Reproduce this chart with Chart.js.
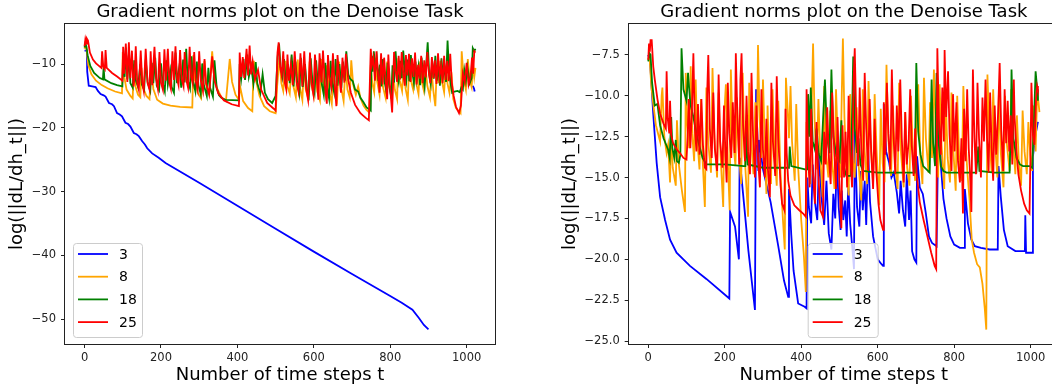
<!DOCTYPE html>
<html><head><meta charset="utf-8">
<script src="https://cdn.jsdelivr.net/npm/chart.js@4.4.1/dist/chart.umd.min.js"></script>
<style>
html,body{margin:0;padding:0;background:#fff;overflow:hidden;width:1052px;height:391px;}
#wrap{position:relative;width:1052px;height:391px;overflow:hidden;}
canvas{position:absolute;top:0;}
#left{left:0;}
#right{left:526px;}
</style></head><body>
<div id="wrap"><canvas id="left" width="526" height="391"></canvas><canvas id="right" width="560" height="391"></canvas></div>
<script>
// Series names and axis ticks
const seriesNames = ['3', '8', '18', '25'];
const xTicks = [0, 200, 400, 600, 800, 1000];
const leftYTicks = [-50, -40, -30, -20, -10];
const rightYTicks = [-25, -22.5, -20, -17.5, -15, -12.5, -10, -7.5];
const chartTitle = 'Gradient norms plot on the Denoise Task';
const xTitle = 'Number of time steps t';
const yTitle = 'log(||dL/dh_t||)';

// Left panel: [time step, log gradient norm]
const left3 = [[0,-7.9],[6,-7.9],[7,-11.2],[11,-13.4],[20,-13.5],[29,-13.6],[35,-14.2],[42,-14.7],[50,-14.9],[55,-15.1],[64,-16.1],[72,-16.3],[77,-16.6],[85,-17.7],[92,-17.9],[98,-18.2],[107,-19.2],[114,-19.4],[120,-19.8],[129,-20.8],[136,-21.0],[142,-21.3],[151,-22.1],[158,-22.6],[164,-23.2],[177,-24.0],[194,-24.7],[212,-25.5],[300,-28.6],[400,-32.2],[500,-35.8],[600,-39.4],[700,-42.9],[801,-46.4],[830,-47.4],[858,-48.5],[875,-49.8],[888,-50.9],[900,-51.6],[901,null],[1016,-13.4],[1019,-13.8],[1021,-14.3]];
const left8 = [[0,-7.6],[3,-7.0],[6,-8.0],[10,-10.2],[18,-11.6],[30,-12.6],[45,-13.3],[60,-13.8],[80,-14.3],[98,-14.6],[100,-8.1],[104,-12.0],[110,-14.0],[120,-15.0],[126,-15.4],[129,-10.0],[133,-13.5],[140,-14.8],[146,-15.2],[149,-10.6],[154,-13.8],[162,-15.0],[170,-15.5],[174,-9.8],[180,-13.9],[190,-15.6],[205,-16.2],[225,-16.5],[250,-16.7],[282,-16.8],[285,-8.6],[289,-12.5],[296,-14.5],[305,-15.4],[314,-9.5],[318,-13.2],[326,-14.6],[334,-8.0],[338,-11.3],[346,-13.7],[358,-15.2],[370,-15.8],[380,-9.2],[386,-12.8],[395,-14.8],[404,-15.6],[407,-13.5],[415,-15.8],[428,-16.9],[439,-17.4],[443,-9.5],[448,-12.4],[458,-15.0],[470,-16.6],[485,-17.4],[500,-17.7],[504,-13.5],[510,-9.0],[515,-13.0],[520,-14.2],[526,-9.5],[531,-13.5],[537,-14.6],[542,-10.0],[547,-13.6],[553,-15.2],[558,-9.3],[563,-13.5],[570,-15.6],[574,-10.4],[579,-14.0],[585,-15.3],[589,-9.6],[594,-13.4],[600,-15.0],[604,-10.6],[609,-14.3],[616,-15.7],[620,-9.2],[625,-13.4],[631,-15.0],[634,-10.2],[640,-14.2],[647,-16.2],[651,-10.8],[656,-14.0],[661,-15.5],[666,-9.6],[671,-13.5],[678,-15.8],[683,-10.4],[688,-14.0],[694,-15.2],[698,-9.4],[703,-13.2],[710,-14.8],[716,-13.5],[722,-15.3],[730,-16.5],[738,-17.2],[745,-17.6],[749,-10.2],[753,-13.0],[758,-14.4],[762,-9.0],[766,-12.8],[772,-14.8],[776,-10.0],[781,-13.6],[788,-15.3],[792,-9.6],[797,-13.4],[803,-15.1],[807,-10.6],[812,-14.0],[818,-15.5],[821,-9.1],[825,-12.6],[831,-14.2],[835,-10.4],[840,-13.8],[846,-15.6],[850,-9.4],[855,-12.8],[860,-14.0],[864,-10.8],[869,-13.3],[874,-14.7],[878,-9.6],[883,-12.9],[888,-14.2],[892,-10.3],[897,-13.4],[904,-15.2],[908,-10.9],[913,-14.3],[918,-16.6],[922,-10.2],[926,-13.0],[931,-9.5],[936,-12.9],[941,-14.4],[945,-10.6],[950,-13.1],[955,-14.5],[960,-11.3],[965,-15.5],[972,-16.9],[984,-17.7],[987,-8.0],[992,-12.2],[998,-14.0],[1003,-9.2],[1008,-12.5],[1013,-13.6],[1017,-10.0],[1020,-12.0],[1023,-10.6]];
const left18 = [[0,-7.4],[2,-6.8],[5,-7.3],[8,-8.6],[15,-10.3],[25,-11.4],[40,-12.2],[48,-12.4],[50,-10.5],[52,-12.4],[70,-13.0],[85,-13.3],[99,-13.5],[101,-9.0],[105,-12.0],[108,-7.4],[112,-12.4],[116,-8.6],[120,-13.0],[126,-13.7],[130,-9.4],[134,-12.5],[140,-13.6],[146,-10.0],[150,-13.2],[156,-14.0],[160,-9.3],[165,-12.8],[172,-14.2],[176,-9.8],[180,-13.0],[185,-9.0],[189,-13.4],[195,-14.1],[200,-9.9],[204,-12.9],[210,-14.3],[214,-9.4],[218,-13.2],[224,-11.0],[228,-13.6],[234,-14.5],[238,-8.2],[242,-13.0],[248,-10.4],[253,-13.7],[258,-9.3],[262,-12.9],[266,-7.6],[270,-12.5],[276,-13.8],[280,-8.8],[284,-12.7],[290,-14.3],[294,-9.6],[298,-13.3],[304,-14.7],[308,-9.9],[312,-13.2],[320,-15.0],[324,-10.6],[328,-13.6],[336,-15.1],[340,-9.4],[346,-13.8],[352,-14.9],[358,-15.3],[369,-15.6],[404,-15.7],[406,-10.0],[410,-12.3],[416,-9.2],[420,-12.5],[426,-8.5],[430,-12.0],[436,-10.3],[442,-13.1],[448,-9.7],[452,-13.0],[460,-14.6],[466,-11.6],[472,-14.5],[480,-15.5],[491,-16.1],[500,-15.0],[505,-9.0],[509,-6.8],[513,-10.4],[518,-12.0],[522,-9.2],[527,-13.3],[532,-10.0],[537,-13.0],[542,-8.5],[547,-13.5],[552,-9.6],[557,-13.2],[562,-14.7],[566,-9.0],[571,-13.6],[577,-10.0],[582,-14.0],[587,-15.0],[592,-9.1],[597,-13.3],[602,-14.5],[606,-9.4],[611,-13.6],[616,-9.1],[621,-13.2],[626,-14.8],[630,-9.8],[635,-13.7],[640,-15.4],[644,-9.5],[648,-12.9],[653,-14.4],[657,-9.2],[662,-13.4],[667,-10.0],[672,-13.8],[676,-9.6],[681,-12.6],[685,-8.0],[690,-11.6],[695,-12.3],[702,-12.7],[708,-14.0],[716,-14.3],[722,-15.3],[730,-16.0],[738,-16.8],[745,-17.1],[749,-17.3],[751,-8.7],[754,-11.2],[757,-8.0],[761,-10.9],[765,-9.2],[769,-12.7],[773,-10.1],[777,-13.5],[781,-9.2],[785,-12.7],[789,-14.0],[793,-9.8],[797,-13.2],[803,-15.4],[806,-10.2],[810,-12.9],[814,-8.0],[818,-11.6],[822,-12.8],[826,-9.5],[830,-12.2],[834,-7.9],[838,-11.0],[842,-12.6],[846,-9.3],[850,-12.7],[854,-8.6],[858,-11.4],[862,-13.0],[866,-9.6],[870,-12.3],[874,-10.4],[878,-13.3],[882,-9.0],[886,-11.8],[890,-13.6],[894,-10.2],[898,-6.6],[902,-11.7],[906,-13.1],[910,-9.5],[914,-12.3],[918,-8.7],[922,-12.6],[926,-10.3],[930,-13.4],[934,-9.1],[938,-12.0],[942,-10.4],[946,-12.8],[950,-6.3],[954,-11.2],[958,-13.0],[962,-14.5],[968,-14.3],[976,-14.2],[982,-14.4],[986,-13.7],[990,-14.0],[994,-11.0],[998,-12.6],[1002,-10.5],[1008,-13.0],[1013,-12.2],[1016,-7.5],[1020,-8.0],[1023,-7.6]];
const left25 = [[0,-7.2],[2,-6.2],[4,-6.8],[6,-6.0],[9,-6.3],[14,-8.2],[22,-9.3],[30,-9.9],[44,-10.6],[46,-8.0],[49,-10.4],[53,-10.8],[55,-7.8],[58,-10.6],[72,-11.4],[86,-12.0],[99,-12.6],[101,-7.3],[104,-11.5],[108,-6.8],[112,-12.8],[116,-6.6],[120,-12.2],[124,-7.9],[128,-13.5],[131,-12.2],[134,-7.2],[138,-13.0],[142,-14.0],[147,-7.9],[151,-12.9],[155,-14.2],[160,-7.6],[165,-13.0],[170,-14.0],[173,-8.0],[177,-13.3],[183,-7.3],[187,-12.2],[192,-13.9],[196,-8.1],[200,-12.9],[205,-14.0],[209,-7.7],[213,-12.6],[218,-7.6],[222,-13.0],[226,-13.9],[230,-8.0],[234,-12.5],[238,-7.2],[242,-12.2],[246,-13.3],[250,-7.8],[254,-12.3],[259,-13.5],[262,-8.1],[266,-12.4],[271,-13.7],[275,-7.3],[279,-12.0],[283,-13.0],[287,-8.1],[291,-12.6],[296,-14.0],[300,-8.0],[304,-12.5],[310,-14.2],[314,-9.2],[318,-13.0],[326,-14.8],[334,-8.8],[340,-12.6],[350,-14.6],[365,-15.7],[385,-16.3],[404,-16.6],[406,-8.2],[410,-12.0],[414,-8.9],[418,-12.2],[424,-7.6],[428,-11.8],[432,-7.1],[436,-11.6],[440,-9.6],[446,-12.4],[454,-10.9],[462,-14.0],[478,-16.1],[495,-17.0],[500,-17.3],[505,-8.2],[508,-6.6],[512,-10.5],[516,-11.8],[520,-8.0],[524,-12.9],[528,-14.0],[531,-8.5],[535,-12.6],[540,-10.0],[545,-13.3],[550,-8.0],[555,-12.8],[560,-14.3],[565,-8.3],[570,-13.5],[575,-8.0],[580,-13.9],[585,-15.6],[590,-8.2],[594,-13.0],[599,-14.8],[603,-8.5],[608,-12.4],[612,-15.6],[615,-8.3],[620,-12.9],[624,-7.9],[629,-13.2],[634,-16.2],[637,-8.6],[641,-12.1],[646,-13.7],[650,-8.3],[654,-12.8],[659,-16.6],[662,-8.6],[667,-12.2],[671,-14.5],[675,-9.0],[680,-12.9],[684,-8.4],[690,-12.5],[697,-14.5],[708,-16.4],[722,-17.7],[735,-18.4],[744,-18.8],[749,-7.6],[752,-10.2],[756,-9.0],[760,-12.6],[764,-8.0],[768,-11.5],[772,-14.5],[776,-8.3],[780,-13.2],[784,-9.0],[788,-12.6],[792,-15.5],[795,-8.5],[799,-13.1],[805,-17.6],[810,-8.1],[814,-11.0],[818,-12.8],[822,-8.7],[826,-12.4],[830,-8.1],[834,-11.5],[838,-13.4],[841,-8.6],[845,-11.8],[849,-8.4],[853,-12.8],[857,-9.1],[861,-12.0],[865,-8.2],[869,-13.2],[873,-10.1],[877,-12.3],[881,-8.7],[885,-13.0],[889,-9.4],[893,-12.1],[897,-8.1],[901,-11.3],[905,-13.0],[909,-8.9],[913,-12.2],[917,-9.4],[921,-13.1],[925,-8.3],[929,-11.9],[933,-10.2],[937,-13.0],[941,-8.7],[945,-12.5],[949,-9.5],[953,-12.7],[957,-8.4],[961,-12.9],[966,-15.0],[972,-16.7],[980,-17.7],[985,-16.5],[990,-11.5],[995,-12.8],[1000,-9.8],[1005,-13.2],[1010,-12.0],[1014,-9.0],[1017,-11.5],[1020,-8.0],[1023,-8.2]];

// Right panel: [time step, log gradient norm]
const right3 = [[0,-7.5],[5,-8.0],[13,-11.1],[22,-14.1],[31,-16.2],[44,-17.6],[57,-18.8],[74,-19.6],[109,-20.4],[152,-21.2],[212,-22.4],[214,-17.1],[227,-18.0],[237,-20.0],[239,-13.8],[250,-16.5],[262,-19.5],[279,-23.1],[282,-9.6],[288,-14.6],[290,-12.7],[300,-14.5],[320,-16.5],[340,-19.2],[355,-21.3],[366,-22.3],[368,-15.7],[374,-18.5],[380,-20.7],[392,-22.7],[409,-22.9],[414,-23.0],[416,-15.0],[420,-16.8],[426,-17.8],[430,-14.2],[436,-16.5],[442,-17.6],[447,-13.5],[453,-16.2],[460,-17.9],[466,-15.2],[472,-18.4],[479,-19.4],[484,-16.0],[489,-17.5],[493,-13.6],[498,-16.8],[503,-18.2],[506,-15.8],[510,-17.6],[515,-16.4],[519,-18.6],[523,-15.4],[528,-17.8],[534,-19.4],[538,-20.6],[540,-12.1],[546,-16.8],[552,-18.0],[556,-14.6],[561,-17.0],[566,-15.2],[570,-17.9],[575,-13.3],[580,-16.5],[588,-18.6],[600,-20.0],[610,-20.3],[614,-20.4],[616,-10.5],[622,-13.4],[630,-14.1],[636,-15.0],[642,-14.7],[650,-15.9],[656,-17.2],[660,-15.2],[666,-17.0],[672,-18.0],[676,-14.8],[682,-17.6],[686,-15.8],[690,-19.5],[696,-20.0],[701,-20.2],[703,-13.7],[710,-15.6],[718,-16.0],[726,-17.2],[734,-18.6],[742,-19.0],[754,-19.2],[760,-9.9],[766,-14.5],[772,-16.3],[780,-17.5],[790,-18.6],[800,-19.1],[815,-19.3],[826,-19.3],[828,-15.7],[836,-17.8],[845,-18.8],[854,-19.2],[870,-19.3],[893,-19.4],[914,-19.4],[916,-14.3],[922,-16.2],[930,-18.2],[940,-19.2],[960,-19.5],[985,-19.5],[986,-17.3],[988,-19.6],[1004,-19.6],[1006,-13.7],[1012,-12.5],[1019,-11.6]];
const right8 = [[0,-7.8],[3,-7.5],[8,-9.4],[13,-10.5],[20,-11.8],[31,-12.8],[35,-10.0],[37,-9.5],[42,-12.5],[48,-13.5],[52,-13.0],[57,-15.3],[60,-12.0],[64,-14.4],[72,-15.5],[75,-11.5],[80,-14.2],[88,-15.8],[96,-17.1],[98,-8.6],[102,-11.8],[107,-13.2],[111,-8.2],[115,-12.3],[120,-14.0],[124,-9.0],[128,-12.6],[134,-14.5],[138,-10.2],[142,-13.8],[148,-16.8],[152,-9.5],[157,-12.9],[164,-14.7],[168,-8.3],[173,-12.6],[180,-15.0],[184,-9.8],[189,-13.6],[196,-16.8],[199,-11.0],[203,-9.3],[208,-14.0],[213,-17.0],[216,-8.4],[221,-12.5],[228,-14.3],[232,-10.1],[237,-13.5],[243,-15.4],[247,-8.6],[252,-13.6],[261,-17.4],[264,-9.2],[269,-12.6],[275,-14.8],[280,-10.4],[284,-13.0],[287,-6.9],[291,-11.2],[296,-13.8],[300,-9.0],[305,-13.2],[309,-16.0],[312,-10.6],[316,-14.0],[321,-15.4],[325,-9.6],[330,-13.5],[336,-15.5],[340,-10.3],[346,-14.8],[352,-17.5],[357,-19.4],[360,-8.9],[364,-10.6],[368,-12.6],[372,-9.4],[376,-12.8],[383,-15.2],[387,-10.5],[392,-14.4],[400,-17.6],[407,-19.8],[412,-22.0],[414,-11.6],[418,-13.6],[424,-15.4],[428,-9.9],[431,-6.8],[435,-11.4],[440,-14.5],[445,-10.2],[450,-13.8],[456,-16.2],[460,-9.4],[465,-13.5],[471,-15.0],[476,-10.9],[481,-14.1],[487,-15.7],[491,-9.6],[497,-13.8],[502,-15.0],[506,-10.0],[509,-6.5],[513,-11.3],[518,-14.3],[524,-16.1],[528,-9.9],[533,-13.5],[540,-15.0],[545,-10.7],[550,-14.2],[557,-16.4],[561,-9.6],[566,-13.4],[572,-15.4],[576,-9.1],[581,-12.7],[588,-15.4],[592,-9.9],[597,-13.3],[604,-16.7],[608,-10.8],[613,-14.1],[618,-15.3],[623,-8.1],[628,-12.7],[635,-14.9],[640,-10.6],[645,-14.0],[652,-15.7],[656,-9.2],[661,-13.5],[668,-15.6],[672,-11.0],[677,-14.4],[683,-15.5],[687,-10.0],[692,-13.6],[698,-15.2],[702,-10.5],[706,-9.3],[711,-13.4],[717,-15.4],[721,-8.9],[726,-12.6],[733,-14.7],[737,-10.4],[742,-13.8],[747,-8.4],[752,-12.3],[758,-15.0],[762,-9.3],[767,-13.0],[774,-15.7],[778,-10.2],[783,-13.8],[789,-15.3],[793,-9.8],[798,-13.4],[804,-15.8],[808,-10.0],[813,-13.8],[820,-15.2],[824,-9.4],[829,-12.6],[835,-14.8],[840,-16.3],[846,-18.8],[852,-19.6],[860,-20.3],[867,-20.5],[874,-21.5],[880,-23.0],[884,-24.3],[887,-8.7],[892,-12.3],[898,-14.7],[902,-9.6],[907,-13.0],[913,-15.0],[917,-9.8],[922,-13.5],[929,-15.6],[933,-10.0],[938,-13.0],[945,-14.6],[949,-9.6],[954,-12.7],[960,-14.8],[964,-11.2],[969,-14.0],[975,-15.5],[979,-10.9],[984,-13.4],[990,-14.8],[994,-11.6],[999,-13.6],[1004,-14.6],[1008,-10.6],[1013,-13.4],[1017,-9.8],[1020,-10.3],[1023,-11.0]];
const right18 = [[0,-7.9],[3,-7.4],[6,-7.5],[10,-9.2],[17,-10.6],[24,-10.5],[31,-11.8],[40,-12.6],[52,-13.3],[56,-13.8],[60,-11.3],[63,-13.2],[68,-13.8],[72,-12.7],[75,-14.0],[80,-14.1],[84,-13.6],[87,-7.1],[92,-9.6],[100,-10.3],[104,-8.6],[110,-10.5],[118,-11.3],[125,-12.2],[133,-13.0],[142,-13.8],[152,-14.2],[200,-14.2],[250,-14.3],[254,-14.3],[256,-12.2],[260,-14.2],[300,-14.4],[344,-14.4],[368,-14.4],[370,-13.1],[374,-14.3],[410,-14.5],[416,-14.5],[418,-9.9],[422,-12.5],[425,-9.5],[430,-12.8],[436,-13.3],[440,-12.0],[446,-13.6],[452,-14.0],[462,-9.0],[468,-12.6],[474,-13.5],[479,-8.4],[484,-12.5],[492,-13.7],[500,-14.0],[505,-11.5],[510,-14.2],[518,-14.9],[530,-14.9],[536,-7.6],[540,-12.0],[546,-13.5],[550,-12.6],[555,-14.2],[562,-14.6],[600,-14.7],[650,-14.7],[697,-14.7],[701,-8.0],[706,-12.2],[712,-13.6],[719,-14.3],[736,-14.7],[741,-9.0],[745,-12.9],[750,-14.3],[754,-8.6],[758,-12.5],[765,-14.3],[772,-14.6],[780,-14.7],[820,-14.7],[858,-14.7],[863,-13.1],[866,-14.6],[905,-14.7],[945,-14.7],[948,-12.0],[950,-8.4],[955,-12.6],[963,-13.8],[972,-14.2],[980,-14.3],[998,-14.3],[1004,-14.4],[1008,-12.0],[1013,-8.5],[1017,-9.6],[1019,-10.3]];
const right25 = [[0,-7.8],[2,-6.8],[4,-7.3],[6,-6.6],[9,-6.6],[13,-8.2],[17,-9.0],[24,-10.2],[31,-11.1],[40,-11.7],[46,-12.0],[48,-8.5],[51,-11.4],[55,-12.3],[57,-10.3],[60,-12.4],[65,-12.9],[75,-13.3],[83,-13.5],[92,-13.8],[100,-13.9],[103,-12.5],[106,-10.2],[110,-13.2],[114,-11.0],[118,-7.4],[122,-12.0],[126,-13.4],[130,-10.5],[134,-13.6],[139,-10.2],[143,-13.0],[148,-14.4],[152,-14.5],[154,-9.9],[157,-7.5],[161,-12.0],[166,-13.8],[170,-9.8],[174,-13.2],[180,-14.6],[184,-8.7],[188,-12.8],[194,-14.4],[198,-10.6],[202,-13.7],[205,-15.3],[208,-9.2],[212,-12.3],[217,-13.8],[221,-10.4],[226,-13.5],[229,-7.4],[233,-11.2],[238,-14.2],[241,-9.0],[244,-7.4],[248,-11.8],[253,-14.0],[257,-10.0],[261,-13.4],[266,-14.8],[270,-8.6],[274,-12.4],[279,-15.0],[283,-10.6],[287,-13.8],[292,-15.6],[296,-9.6],[300,-13.3],[305,-15.0],[309,-11.4],[313,-14.5],[318,-16.2],[322,-9.2],[326,-12.8],[332,-14.9],[336,-8.8],[340,-12.6],[346,-15.5],[350,-16.6],[356,-17.0],[359,-10.8],[362,-13.5],[366,-15.2],[372,-16.1],[382,-16.7],[395,-17.0],[405,-17.2],[412,-17.4],[414,-9.6],[418,-13.6],[422,-15.6],[426,-10.8],[430,-14.5],[436,-16.6],[440,-11.6],[444,-14.5],[450,-17.0],[457,-17.4],[460,-12.2],[464,-14.2],[468,-10.7],[472,-13.6],[477,-15.4],[481,-9.8],[486,-13.2],[491,-15.7],[495,-11.3],[499,-14.8],[505,-18.1],[508,-11.8],[512,-15.0],[516,-12.2],[520,-15.6],[524,-10.0],[528,-13.4],[533,-15.6],[537,-9.1],[540,-7.1],[544,-11.6],[549,-14.3],[553,-9.5],[557,-13.2],[562,-15.2],[566,-8.6],[570,-12.0],[575,-14.6],[579,-10.2],[583,-13.4],[588,-15.7],[592,-11.4],[596,-14.5],[602,-16.6],[607,-17.6],[614,-18.2],[616,-10.4],[620,-13.6],[624,-9.2],[628,-12.3],[633,-14.5],[637,-8.4],[641,-12.2],[646,-14.8],[650,-10.6],[654,-13.4],[659,-9.0],[663,-12.6],[668,-15.3],[672,-11.0],[676,-14.2],[681,-12.8],[685,-9.6],[689,-13.0],[694,-14.9],[698,-12.0],[702,-14.8],[710,-16.5],[720,-17.6],[730,-18.6],[740,-19.6],[749,-20.4],[753,-20.6],[756,-7.1],[760,-11.4],[765,-13.6],[769,-9.5],[773,-12.8],[775,-7.2],[779,-11.3],[784,-8.5],[788,-12.4],[793,-14.6],[797,-9.9],[801,-13.4],[806,-10.4],[810,-14.0],[815,-15.3],[819,-12.6],[823,-17.2],[826,-10.8],[830,-14.0],[834,-9.6],[838,-13.2],[841,-14.5],[845,-17.1],[849,-8.4],[853,-12.6],[857,-14.8],[861,-9.2],[865,-12.6],[870,-15.0],[874,-10.1],[878,-12.8],[882,-9.0],[886,-12.6],[890,-14.7],[894,-9.8],[898,-13.2],[902,-15.2],[906,-10.6],[910,-13.6],[915,-11.0],[919,-8.0],[923,-12.0],[928,-14.6],[932,-9.6],[936,-12.9],[940,-10.3],[944,-13.4],[948,-11.2],[952,-14.2],[956,-9.0],[958,-11.3],[963,-13.4],[968,-14.8],[975,-15.8],[983,-16.6],[990,-17.0],[997,-17.2],[1000,-13.0],[1002,-9.2],[1006,-12.4],[1010,-13.0],[1014,-10.2],[1017,-9.4],[1019,-9.6]];

const lineColors = ['#0000ff', '#ffa500', '#008000', '#ff0000'];
const FONT = '"DejaVu Sans", sans-serif';
const minus = s => s.replace('-', '\u2212');

// Frame, title, axis titles and legend drawn in matplotlib style
const decor = {
  id: 'decor',
  afterDraw(chart, args, o) {
    const ctx = chart.ctx, a = chart.chartArea;
    ctx.save();
    ctx.strokeStyle = '#222';
    ctx.lineWidth = 1;
    ctx.strokeRect(Math.round(a.left) - 0.5, Math.round(a.top) - 0.5,
                   Math.round(a.right - a.left) + 1, Math.round(a.bottom - a.top) + 1);
    ctx.fillStyle = '#000';
    ctx.font = '18px ' + FONT;
    ctx.textAlign = 'center';
    ctx.textBaseline = 'alphabetic';
    const cx = (a.left + a.right) / 2;
    ctx.fillText(chartTitle, cx, 17);
    ctx.fillText(xTitle, cx, 380);
    ctx.save();
    ctx.translate(o.yTitleX, (a.top + a.bottom) / 2);
    ctx.rotate(-Math.PI / 2);
    ctx.fillText(yTitle, 0, 0);
    ctx.restore();
    // legend
    const L = o.legend;
    ctx.fillStyle = 'rgba(255,255,255,0.8)';
    ctx.strokeStyle = '#cccccc';
    ctx.beginPath();
    ctx.roundRect(L.x + 0.5, L.y + 0.5, L.w, L.h, 3);
    ctx.fill();
    ctx.stroke();
    ctx.font = '14px ' + FONT;
    ctx.textAlign = 'left';
    ctx.textBaseline = 'middle';
    seriesNames.forEach((name, i) => {
      const y = L.y + 11 + i * 22.7;
      ctx.strokeStyle = lineColors[i];
      ctx.lineWidth = 1.8;
      ctx.beginPath();
      ctx.moveTo(L.x + 5, y);
      ctx.lineTo(L.x + 35, y);
      ctx.stroke();
      ctx.fillStyle = '#000';
      ctx.fillText(name, L.x + 46, y + 1);
    });
    ctx.restore();
  }
};

function makeChart(id, series, yTicks, yMin, yMax, fmt, geo) {
  const datasets = series.map((s, i) => ({
    label: seriesNames[i],
    data: s.map(p => ({ x: p[0], y: p[1] })),
    borderColor: lineColors[i],
    borderWidth: 1.8,
    pointRadius: 0,
    tension: 0,
    fill: false,
    spanGaps: false,
    order: series.length - i
  }));
  return new Chart(document.getElementById(id), {
    type: 'line',
    data: { datasets },
    plugins: [decor],
    options: {
      responsive: false,
      animation: false,
      devicePixelRatio: 1,
      layout: { padding: { top: 24, right: geo.padRight, left: 0, bottom: 0 } },
      plugins: {
        legend: { display: false },
        tooltip: { enabled: false },
        decor: { yTitleX: geo.yTitleX, legend: geo.legend }
      },
      scales: {
        x: {
          type: 'linear',
          min: -51.15, max: 1074.15,
          afterBuildTicks: s => { s.ticks = xTicks.map(v => ({ value: v })); },
          afterFit: s => { s.height = 47; },
          grid: { display: true, drawOnChartArea: false, drawTicks: true, tickLength: 4, color: '#222' },
          border: { display: false },
          ticks: { color: '#222', padding: 3, maxRotation: 0, autoSkip: false,
                   font: { family: FONT, size: 11.5 }, callback: v => String(v) }
        },
        y: {
          type: 'linear',
          min: yMin, max: yMax,
          afterBuildTicks: s => { s.ticks = yTicks.map(v => ({ value: v })); },
          afterFit: s => { s.width = geo.yWidth; },
          grid: { display: true, drawOnChartArea: false, drawTicks: true, tickLength: 4, color: '#222' },
          border: { display: false },
          ticks: { color: '#222', padding: 5, autoSkip: false,
                   font: { family: FONT, size: 11.5 }, callback: v => fmt(v) }
        }
      }
    }
  });
}

makeChart('left', [left3, left8, left18, left25], leftYTicks, -53.88, -3.72,
  v => minus(String(v)),
  { padRight: 31, yWidth: 65, yTitleX: 21.5, legend: { x: 73, y: 243, w: 69, h: 94 } });
makeChart('right', [right3, right8, right18, right25], rightYTicks, -25.18, -5.61,
  v => minus(v.toFixed(1)),
  { padRight: 27, yWidth: 102.7, yTitleX: 49, legend: { x: 281.7, y: 243, w: 70, h: 94 } });
</script>
</body></html>
